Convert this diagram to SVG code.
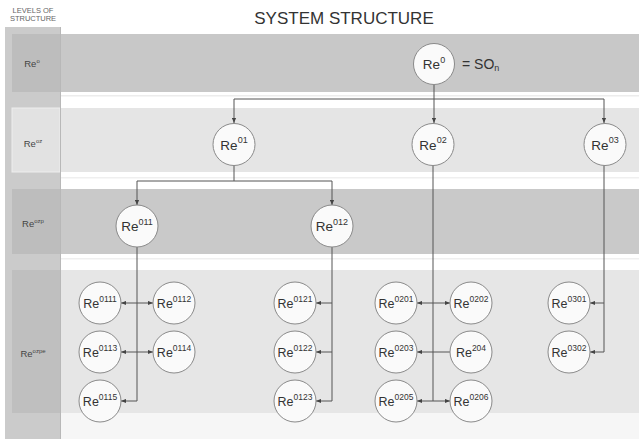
<svg xmlns="http://www.w3.org/2000/svg" width="639" height="439" viewBox="0 0 639 439">
  <style>
    .title { font-family: "Liberation Sans", Arial, sans-serif; font-size: 17px; fill: #333; }
    .head { font-family: "Liberation Sans", Arial, sans-serif; font-size: 7.5px; fill: #666; }
    .lvl { font-family: "Liberation Sans", Arial, sans-serif; font-size: 9.5px; fill: #444; text-anchor: middle; }
    .lvl .s { font-size: 6px; }
    .node circle { fill: #fafafa; stroke: #8a8a8a; stroke-width: 1; }
    .node text { font-family: "Liberation Sans", Arial, sans-serif; font-size: 13.5px; fill: #333; text-anchor: middle; }
    .node text .s { font-size: 9px; }
    .small text { font-size: 12.5px; }
    .small text .s { font-size: 8.5px; }
    .conn path { fill: none; stroke: #555; stroke-width: 1; }
    .arr { marker-end: url(#ah); }
  </style>
  <defs>
    <marker id="ah" viewBox="0 0 6 6" refX="6" refY="3" markerWidth="5" markerHeight="5" orient="auto" markerUnits="userSpaceOnUse">
      <path d="M0,0.5 L6,3 L0,5.5 z" fill="#444"/>
    </marker>
  </defs>

  <!-- page background -->
  <rect x="0" y="0" width="639" height="439" fill="#ffffff"/>

  <!-- level bands -->
  <g id="bands">
    <rect x="60" y="34" width="579" height="58" fill="#c8c8c8"/>
    <rect x="60" y="95" width="579" height="1.5" fill="#ececec"/>
    <rect x="60" y="108" width="579" height="64" fill="#e5e5e5"/>
    <rect x="60" y="177" width="579" height="1.5" fill="#efefef"/>
    <rect x="60" y="189" width="579" height="65" fill="#c9c9c9"/>
    <rect x="60" y="258" width="579" height="1.5" fill="#efefef"/>
    <rect x="60" y="270" width="579" height="143" fill="#e6e6e6"/>
    <rect x="60" y="413" width="579" height="26" fill="#f6f6f6"/>
  </g>

  <!-- levels column -->
  <g id="levels">
    <rect x="5" y="27" width="55" height="412" fill="#cbcbcb"/>
    <rect x="12" y="34" width="48" height="58" fill="#bdbdbd"/>
    <rect x="12" y="108" width="48" height="64" fill="#e2e2e2" stroke="#eeeeee" stroke-width="1"/>
    <rect x="12" y="189" width="48" height="65" fill="#bdbdbd"/>
    <rect x="12" y="270" width="48" height="143" fill="#bfbfbf"/>
    <line x1="60.5" y1="27" x2="60.5" y2="439" stroke="#b8b8b8" stroke-width="1"/>
    <text class="head" x="33" y="13" text-anchor="middle">LEVELS OF</text>
    <text class="head" x="33" y="21" text-anchor="middle">STRUCTURE</text>
    <text class="lvl" x="32" y="67">Re<tspan class="s" dy="-4">o</tspan></text>
    <text class="lvl" x="33" y="147">Re<tspan class="s" dy="-4">oz</tspan></text>
    <text class="lvl" x="33" y="227">Re<tspan class="s" dy="-4">ozp</tspan></text>
    <text class="lvl" x="33" y="357">Re<tspan class="s" dy="-4">ozpe</tspan></text>
  </g>

  <text class="title" x="344" y="24" text-anchor="middle">SYSTEM STRUCTURE</text>

  <!-- connectors -->
  <g id="connectors" class="conn">
    <path class="arr" d="M434,85 V123"/>
    <path d="M234,99 H604"/>
    <path class="arr" d="M234,99 V123"/>
    <path class="arr" d="M604,99 V123"/>

    <path d="M234,165 V181 H332"/>
    <path class="arr" d="M137,181 V205"/>
    <path d="M137,181 H234"/>
    <path class="arr" d="M332,181 V205"/>

    <path class="arr" d="M137,247 V401 H121"/>
    <path class="arr" d="M137,303 H121"/>
    <path class="arr" d="M137,303 H153"/>
    <path class="arr" d="M137,352 H121"/>
    <path class="arr" d="M137,352 H153"/>

    <path class="arr" d="M332,247 V401 H316"/>
    <path class="arr" d="M332,303 H316"/>
    <path class="arr" d="M332,352 H316"/>

    <path d="M433,165 V401"/>
    <path class="arr" d="M433,303 H417"/>
    <path class="arr" d="M433,303 H450"/>
    <path class="arr" d="M450,352 H417"/>
    <path class="arr" d="M433,401 H417"/>
    <path class="arr" d="M433,401 H450"/>

    <path class="arr" d="M604,165 V352 H590"/>
    <path class="arr" d="M604,303 H590"/>
  </g>

  <!-- level 0 -->
  <g id="n-re0" class="node">
    <circle cx="434" cy="64" r="20.5"/>
    <text x="434" y="69">Re<tspan class="s" dy="-6.5">0</tspan></text>
  </g>
  <text x="462" y="69" font-family="'Liberation Sans', Arial, sans-serif" font-size="14" fill="#333">= SO<tspan font-size="9" dy="2">n</tspan></text>

  <!-- level 1 -->
  <g id="n-re01" class="node">
    <circle cx="234" cy="144.5" r="21"/>
    <text x="234" y="149.5">Re<tspan class="s" dy="-6.5">01</tspan></text>
  </g>
  <g id="n-re02" class="node">
    <circle cx="433" cy="144.5" r="21"/>
    <text x="433" y="149.5">Re<tspan class="s" dy="-6.5">02</tspan></text>
  </g>
  <g id="n-re03" class="node">
    <circle cx="605" cy="144.5" r="21"/>
    <text x="605" y="149.5">Re<tspan class="s" dy="-6.5">03</tspan></text>
  </g>

  <!-- level 2 -->
  <g id="n-re011" class="node">
    <circle cx="137" cy="226" r="21"/>
    <text x="137" y="231">Re<tspan class="s" dy="-6.5">011</tspan></text>
  </g>
  <g id="n-re012" class="node">
    <circle cx="332" cy="226" r="21"/>
    <text x="332" y="231">Re<tspan class="s" dy="-6.5">012</tspan></text>
  </g>

  <!-- level 3 -->
  <g class="small">
    <g id="n-re0111" class="node"><circle cx="100" cy="303" r="21"/><text x="100" y="308">Re<tspan class="s" dy="-6.5">0111</tspan></text></g>
    <g id="n-re0112" class="node"><circle cx="174" cy="303" r="21"/><text x="174" y="308">Re<tspan class="s" dy="-6.5">0112</tspan></text></g>
    <g id="n-re0113" class="node"><circle cx="100" cy="352" r="21"/><text x="100" y="357">Re<tspan class="s" dy="-6.5">0113</tspan></text></g>
    <g id="n-re0114" class="node"><circle cx="174" cy="352" r="21"/><text x="174" y="357">Re<tspan class="s" dy="-6.5">0114</tspan></text></g>
    <g id="n-re0115" class="node"><circle cx="100" cy="401" r="21"/><text x="100" y="406">Re<tspan class="s" dy="-6.5">0115</tspan></text></g>

    <g id="n-re0121" class="node"><circle cx="295" cy="303" r="21"/><text x="295" y="308">Re<tspan class="s" dy="-6.5">0121</tspan></text></g>
    <g id="n-re0122" class="node"><circle cx="295" cy="352" r="21"/><text x="295" y="357">Re<tspan class="s" dy="-6.5">0122</tspan></text></g>
    <g id="n-re0123" class="node"><circle cx="295" cy="401" r="21"/><text x="295" y="406">Re<tspan class="s" dy="-6.5">0123</tspan></text></g>

    <g id="n-re0201" class="node"><circle cx="396" cy="303" r="21"/><text x="396" y="308">Re<tspan class="s" dy="-6.5">0201</tspan></text></g>
    <g id="n-re0202" class="node"><circle cx="471" cy="303" r="21"/><text x="471" y="308">Re<tspan class="s" dy="-6.5">0202</tspan></text></g>
    <g id="n-re0203" class="node"><circle cx="396" cy="352" r="21"/><text x="396" y="357">Re<tspan class="s" dy="-6.5">0203</tspan></text></g>
    <g id="n-re204" class="node"><circle cx="471" cy="352" r="21"/><text x="471" y="357">Re<tspan class="s" dy="-6.5">204</tspan></text></g>
    <g id="n-re0205" class="node"><circle cx="396" cy="401" r="21"/><text x="396" y="406">Re<tspan class="s" dy="-6.5">0205</tspan></text></g>
    <g id="n-re0206" class="node"><circle cx="471" cy="401" r="21"/><text x="471" y="406">Re<tspan class="s" dy="-6.5">0206</tspan></text></g>

    <g id="n-re0301" class="node"><circle cx="569" cy="303" r="21"/><text x="569" y="308">Re<tspan class="s" dy="-6.5">0301</tspan></text></g>
    <g id="n-re0302" class="node"><circle cx="569" cy="352" r="21"/><text x="569" y="357">Re<tspan class="s" dy="-6.5">0302</tspan></text></g>
  </g>
</svg>
